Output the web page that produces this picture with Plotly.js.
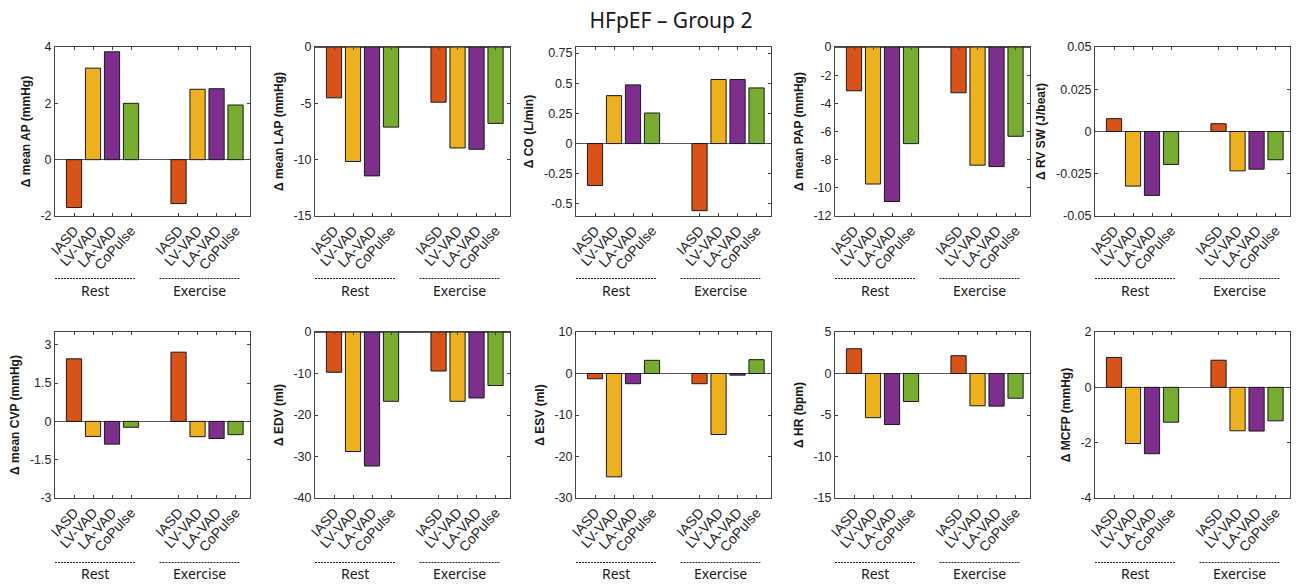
<!DOCTYPE html>
<html>
<head>
<meta charset="utf-8">
<script src="https://cdn.plot.ly/plotly-3.0.1.min.js"></script>
<style>html,body{margin:0;padding:0;background:#fff;}#chart{width:1304px;height:584px;}</style>
</head>
<body>
<div id="chart"></div>
<script>
// ---------- DATA ----------
const categories = ['IASD', 'LV-VAD', 'LA-VAD', 'CoPulse'];
const conditions = ['Rest', 'Exercise'];
const chartTitle = 'HFpEF \u2013 Group 2';

const yTitles = [
  '\u0394 mean AP (mmHg)', '\u0394 mean LAP (mmHg)', '\u0394 CO (L/min)', '\u0394 mean PAP (mmHg)', '\u0394 RV SW (J/beat)',
  '\u0394 mean CVP (mmHg)', '\u0394 EDV (ml)', '\u0394 ESV (ml)', '\u0394 HR (bpm)', '\u0394 MCFP (mmHg)'
];

// values: [IASD, LV-VAD, LA-VAD, CoPulse]
const meanAP_rest      = [-1.70, 3.25, 3.83, 2.00];
const meanAP_exercise  = [-1.56, 2.50, 2.52, 1.94];
const meanLAP_rest     = [-4.51, -10.16, -11.44, -7.11];
const meanLAP_exercise = [-4.90, -8.96, -9.08, -6.78];
const CO_rest          = [-0.347, 0.397, 0.486, 0.253];
const CO_exercise      = [-0.556, 0.531, 0.531, 0.461];
const meanPAP_rest     = [-3.11, -9.73, -10.97, -6.86];
const meanPAP_exercise = [-3.25, -8.39, -8.49, -6.34];
const RVSW_rest        = [0.0076, -0.0323, -0.0378, -0.0195];
const RVSW_exercise    = [0.0046, -0.0233, -0.0223, -0.0167];
const meanCVP_rest     = [2.45, -0.59, -0.89, -0.23];
const meanCVP_exercise = [2.71, -0.60, -0.67, -0.52];
const EDV_rest         = [-9.7, -28.8, -32.3, -16.7];
const EDV_exercise     = [-9.4, -16.7, -15.9, -12.9];
const ESV_rest         = [-1.27, -24.9, -2.46, 3.17];
const ESV_exercise     = [-2.46, -14.7, -0.40, 3.33];
const HR_rest          = [2.98, -5.32, -6.15, -3.37];
const HR_exercise      = [2.14, -3.89, -3.93, -2.98];
const MCFP_rest        = [1.08, -2.03, -2.40, -1.26];
const MCFP_exercise    = [0.98, -1.57, -1.58, -1.21];

// y tick labels per panel
const yTicks = [
  [-2, 0, 2, 4],
  [-15, -10, -5, 0],
  [-0.5, -0.25, 0, 0.25, 0.5, 0.75],
  [-12, -10, -8, -6, -4, -2, 0],
  [-0.05, -0.025, 0, 0.025, 0.05],
  [-3, -1.5, 0, 1.5, 3],
  [-40, -30, -20, -10, 0],
  [-30, -20, -10, 0, 10],
  [-15, -10, -5, 0, 5],
  [-4, -2, 0, 2]
];

// ---------- STYLE / LAYOUT ----------
const colors = ['#D95319', '#EDB120', '#7E2F8E', '#77AC30'];
const yRanges = [[-2, 4], [-15, 0], [-0.6, 0.8], [-12, 0], [-0.05, 0.05],
                 [-3, 3.5], [-40, 0], [-30, 10], [-15, 5], [-4, 2]];
const panels = [
  [meanAP_rest, meanAP_exercise], [meanLAP_rest, meanLAP_exercise], [CO_rest, CO_exercise],
  [meanPAP_rest, meanPAP_exercise], [RVSW_rest, RVSW_exercise],
  [meanCVP_rest, meanCVP_exercise], [EDV_rest, EDV_exercise], [ESV_rest, ESV_exercise],
  [HR_rest, HR_exercise], [MCFP_rest, MCFP_exercise]
];

const W = 1304, H = 584;
const colLeft = [55, 315, 576, 835, 1095];
const colW = 195;
const rowPx = [[47, 216], [332, 498]];
const groupGap = 5.5;
const xRange = [0, 10.26];

function pos(g, i) { return 1 + i + g * groupGap; }

const traces = [];
const layout = {
  width: W, height: H,
  margin: {l: 0, r: 0, t: 0, b: 0},
  paper_bgcolor: '#ffffff', plot_bgcolor: '#ffffff',
  showlegend: false,
  bargap: 0,
  title: {
    text: chartTitle, x: 671 / W, xanchor: 'center', y: 1 - 21 / H, yanchor: 'middle',
    font: {family: 'Noto Sans', size: 21, color: '#1a1a1a'}
  },
  shapes: [], annotations: []
};

const tickFont = {family: 'Liberation Sans, Arial', size: 12.5, color: '#262626'};

for (let p = 0; p < 10; p++) {
  const row = Math.floor(p / 5), col = p % 5;
  const n = p + 1;
  const xa = n === 1 ? 'xaxis' : 'xaxis' + n;
  const ya = n === 1 ? 'yaxis' : 'yaxis' + n;
  const xr = n === 1 ? 'x' : 'x' + n;
  const yr = n === 1 ? 'y' : 'y' + n;

  const xs = [], ys = [], cs = [], tt = [];
  for (let g = 0; g < conditions.length; g++) {
    for (let i = 0; i < categories.length; i++) {
      xs.push(pos(g, i));
      ys.push(panels[p][g][i]);
      cs.push(colors[i]);
      tt.push(categories[i]);
    }
  }
  traces.push({
    type: 'bar', x: xs, y: ys, width: 0.8, xaxis: xr, yaxis: yr,
    marker: {color: cs, line: {color: '#1a1a1a', width: 1}},
    hoverinfo: 'x+y'
  });

  const top = rowPx[row][0], bot = rowPx[row][1];
  layout[xa] = {
    domain: [colLeft[col] / W, (colLeft[col] + colW) / W],
    anchor: yr, range: xRange, tickmode: 'array', tickvals: xs, ticktext: tt,
    tickangle: -48, ticks: 'inside', ticklen: 3, tickcolor: '#444',
    showline: true, mirror: 'ticks', linecolor: '#444', linewidth: 1,
    showgrid: false, zeroline: false,
    tickfont: {family: 'Liberation Sans, Arial', size: 14, color: '#262626'},
    fixedrange: true
  };
  layout[ya] = {
    domain: [1 - bot / H, 1 - top / H],
    anchor: xr, range: yRanges[p], tickmode: 'array', tickvals: yTicks[p],
    ticktext: yTicks[p].map(v => String(v)),
    ticks: 'inside', ticklen: 3, tickcolor: '#444',
    showline: true, mirror: 'ticks', linecolor: '#444', linewidth: 1,
    showgrid: false, zeroline: true, zerolinecolor: '#555', zerolinewidth: 1,
    tickfont: tickFont,
    title: {text: yTitles[p], font: {family: 'Liberation Sans, Arial', size: 12, weight: 'bold', color: '#1a1a1a'}, standoff: 7},
    fixedrange: true
  };

  // group underline + label
  const lineY = row === 0 ? 278.5 : 562.5;
  const labY = row === 0 ? 290 : 573;
  for (let g = 0; g < conditions.length; g++) {
    const c = (pos(g, 0) + pos(g, categories.length - 1)) / 2 - 0.4;
    layout.shapes.push({
      type: 'line', xref: xr, yref: 'paper',
      x0: c - 2.1, x1: c + 2.1, y0: 1 - lineY / H, y1: 1 - lineY / H,
      line: {color: '#222', width: 1, dash: '2px,1px'}
    });
    layout.annotations.push({
      text: conditions[g], xref: xr, yref: 'paper', x: c, y: 1 - labY / H,
      xanchor: 'center', yanchor: 'middle', showarrow: false, borderpad: 0,
      font: {family: 'Noto Sans', size: 14, color: '#1a1a1a'}
    });
  }
}

Plotly.newPlot('chart', traces, layout, {displayModeBar: false, staticPlot: true});
</script>
</body>
</html>
